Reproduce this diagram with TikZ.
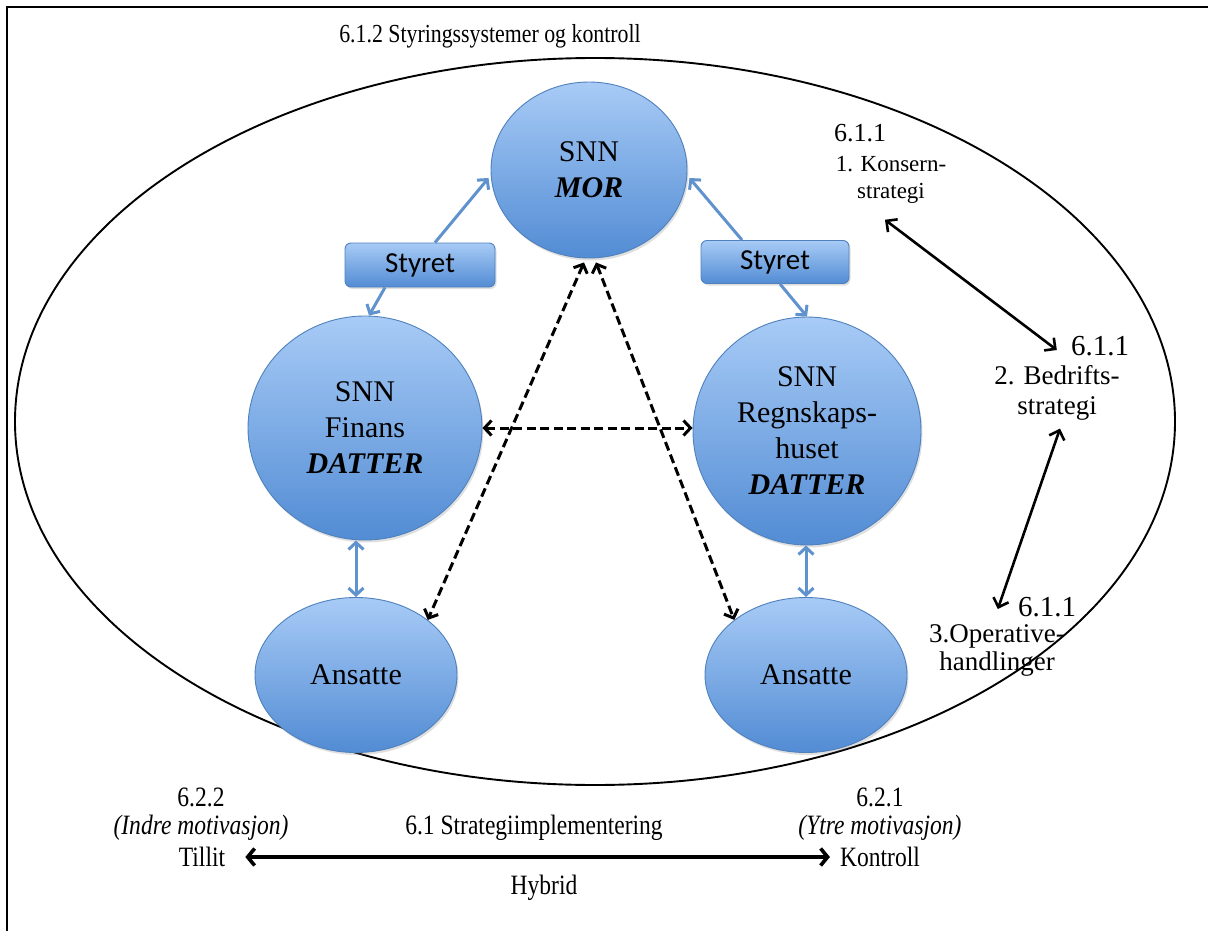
\documentclass[tikz,border=0pt]{standalone}
\usepackage{graphicx}
\usepackage{fontspec}
\setmainfont{Liberation Serif}
\newfontfamily\calib{Carlito}
\usetikzlibrary{arrows.meta,shapes.geometric,shadows}
\definecolor{bubtop}{RGB}{168,203,246}
\definecolor{bubbot}{RGB}{82,140,212}
\definecolor{bubedge}{RGB}{79,129,189}
\definecolor{bline}{RGB}{96,146,206}
\newcommand\condtxt[1]{\scalebox{0.84}[1]{#1}}
\begin{document}
\begin{tikzpicture}[x=1pt,y=-1pt,
  bubble/.style={ellipse, draw=bubedge, line width=0.9pt, top color=bubtop, bottom color=bubbot,
     align=center, inner sep=0pt, font=\fontsize{30}{36}\selectfont,
     drop shadow={opacity=0.25, shadow xshift=1.5pt, shadow yshift=-2.5pt}},
  boardbox/.style={rectangle, rounded corners=6pt, draw=bubedge, line width=0.9pt,
     top color=bubtop, bottom color=bubbot, inner sep=0pt, font=\calib\fontsize{29}{32}\selectfont,
     drop shadow={opacity=0.25, shadow xshift=1.5pt, shadow yshift=-2pt}},
  lbl/.style={align=center, inner sep=2pt},
  bottxt/.style={align=center, inner sep=2pt, font=\fontsize{28}{28}\selectfont},
  bluearrow/.style={draw=bline, line width=3pt, {Straight Barb[length=7pt,width=15pt]}-{Straight Barb[length=7pt,width=15pt]}},
  blueone/.style={draw=bline, line width=3pt, -{Straight Barb[length=7pt,width=15pt]}},
  dasharrow/.style={draw=black, line width=3pt, dash pattern=on 9pt off 4.5pt,
     {Straight Barb[length=7pt,width=15pt]}-{Straight Barb[length=7pt,width=15pt]}},
  blkarrow/.style={draw=black, line width=2.6pt,
     {Straight Barb[length=8pt,width=16pt]}-{Straight Barb[length=8pt,width=16pt]}},
  bigarrow/.style={draw=black, line width=3.6pt,
     {Straight Barb[length=7pt,width=17pt]}-{Straight Barb[length=7pt,width=17pt]}}
]
\useasboundingbox (0,0) rectangle (1208,931);
\fill[white] (0,0) rectangle (1208,931);
% frame
\draw[line width=2pt] (7,931) -- (7,7) -- (1208,7);
% outer ellipse
\draw[line width=1.9pt] (595,421.5) ellipse [x radius=580pt, y radius=363.5pt];
% title
\node[lbl, font=\fontsize{26}{30}\selectfont] (title) at (490,36) {\condtxt{6.1.2 Styringssystemer og kontroll}};

% bubbles
\node[bubble, minimum width=196pt, minimum height=176pt] (mor) at (589,170) {SNN\\\textbf{\textit{MOR}}};
\node[bubble, minimum width=234pt, minimum height=224pt] (fin) at (365,428) {SNN\\Finans\\\textbf{\textit{DATTER}}};
\node[bubble, minimum width=228pt, minimum height=228pt] (reg) at (807,431) {SNN\\Regnskaps-\\huset\\\textbf{\textit{DATTER}}};
\node[bubble, minimum width=202pt, minimum height=155pt] (ansL) at (356,675) {Ansatte};
\node[bubble, minimum width=202pt, minimum height=155pt] (ansR) at (806,675) {Ansatte};

% boards
\node[boardbox, minimum width=150pt, minimum height=44pt] (styL) at (420,265) {Styret};
\node[boardbox, minimum width=148pt, minimum height=43pt] (styR) at (775,262) {Styret};

% blue connectors
\draw[blueone] ([xshift=15pt]styL.north) -- ([xshift=-2pt,yshift=-8pt]mor.west);
\draw[blueone] ([xshift=-35pt]styL.south) -- ([xshift=4pt]fin.north);
\draw[blueone] ([xshift=-33pt]styR.north) -- ([xshift=2pt,yshift=-8pt]mor.east);
\draw[blueone] ([xshift=5pt]styR.south) -- (reg.north);
\draw[bluearrow] (ansL.north |- fin.south) -- (ansL.north);
\draw[bluearrow] (ansR.north |- reg.south) -- (ansR.north);

% dashed connectors
\draw[dasharrow] ([xshift=-5pt,yshift=-4pt]mor.south) -- (ansL.north east);
\draw[dasharrow] ([xshift=7pt,yshift=-4pt]mor.south) -- (ansR.north west);
\draw[dasharrow] (fin.east) -- (fin.east -| reg.west);

% right side strategy labels
\node[lbl, font=\fontsize{26}{30}\selectfont] (k1num) at (860,133) {6.1.1};
\node[lbl, font=\fontsize{23}{27}\selectfont] (k1) at (891,180) {1. Konsern-\\strategi};
\node[lbl, font=\fontsize{29}{33}\selectfont] (b2num) at (1100,346) {6.1.1};
\node[lbl, font=\fontsize{27}{30}\selectfont] (b2) at (1057,393) {2. Bedrifts-\\strategi};
\node[lbl, font=\fontsize{29}{33}\selectfont] (o3num) at (1047,607) {6.1.1};
\node[lbl, font=\fontsize{27}{28}\selectfont] (o3) at (997,650) {3.Operative-\\handlinger};

\draw[blkarrow] ([xshift=-6pt,yshift=-14pt]k1.south) -- ([xshift=-12pt,yshift=-4pt]b2num.west);
\draw[blkarrow] ([xshift=3pt,yshift=-6pt]b2.south) -- ([xshift=-18pt,yshift=-2pt]o3num.west);

% bottom labels
\node[bottxt] (indre) at (201,814) {\condtxt{6.2.2}\\\condtxt{\textit{(Indre motivasjon)}}};
\node[bottxt] (tillit) at (202,857) {\condtxt{Tillit}};
\node[bottxt] (ytre) at (880,814) {\condtxt{6.2.1}\\\condtxt{\textit{(Ytre motivasjon)}}};
\node[bottxt] (kontroll) at (880,857) {\condtxt{Kontroll}};
\node[bottxt] (strimp) at (534,828) {\condtxt{6.1 Strategiimplementering}};
\node[bottxt] (hybrid) at (544,888) {\condtxt{Hybrid}};
\draw[bigarrow] ([xshift=18pt]tillit.east) -- ([xshift=-8pt]kontroll.west);
\end{tikzpicture}
\end{document}
